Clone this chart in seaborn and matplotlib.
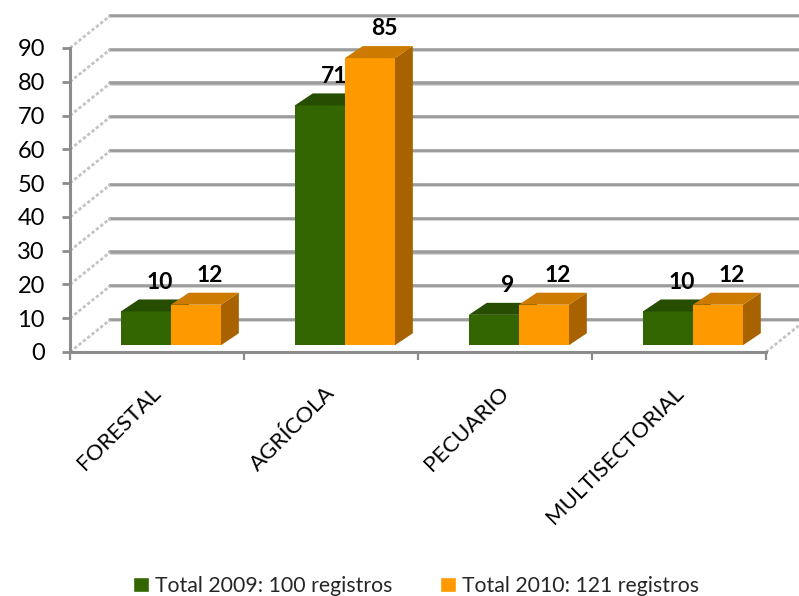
import numpy as np
import pandas as pd
import matplotlib
matplotlib.use("Agg")
import matplotlib.pyplot as plt
from matplotlib.patches import Polygon
from matplotlib.transforms import ScaledTranslation
import seaborn as sns

# Data
categorias = ["FORESTAL", "AGRÍCOLA", "PECUARIO", "MULTISECTORIAL"]
total_2009 = [10, 71, 9, 10]
total_2010 = [12, 85, 12, 12]
series = ["Total 2009: 100 registros", "Total 2010: 121 registros"]
y_ticks = list(range(0, 100, 10))

# Face colours for the pseudo-3D columns
frente = {series[0]: "#336600", series[1]: "#FF9900"}
techo = {series[0]: "#264D00", series[1]: "#CC7A00"}
lateral = {series[0]: "#1E3D00", series[1]: "#A86200"}

df = pd.DataFrame({
    "categoria": categorias * 2,
    "serie": [series[0]] * len(categorias) + [series[1]] * len(categorias),
    "valor": total_2009 + total_2010,
})

sns.set_theme(style="white")
plt.rcParams["font.family"] = ["Lato", "DejaVu Sans"]

W, H = 799, 596
fig = plt.figure(figsize=(W / 100, H / 100), dpi=100)
ax = fig.add_axes([70 / W, (H - 352) / H, (W - 70) / W, 352 / H])

sns.barplot(data=df, x="categoria", y="valor", hue="serie", palette=frente,
            width=0.575, saturation=1, ax=ax, legend=True)

XMAX, YMAX = 3.69, 104.2
ax.set_xlim(-0.5, XMAX)
ax.set_ylim(0, YMAX)

# perspective offsets (data units)
WX, WY = 0.23, 9.5      # depth of walls / floor
BX, BY = 0.103, 3.55    # depth of each column
BASE = 2.0              # columns stand a little behind the front edge
SHIFT = 0.08

grid_col = "#9c9c9c"
# back wall grid lines
for v in y_ticks:
    ax.plot([-0.5 + WX, XMAX + 1], [v + WY, v + WY], color=grid_col, lw=2.6,
            solid_capstyle="round", zorder=0.5)
    ax.plot([-0.5 + WX, XMAX + 1], [v + WY - 0.35, v + WY - 0.35], color="#d6d6d6",
            lw=0.7, zorder=0.6)
    # side wall lines
    ax.plot([-0.5, -0.5 + WX], [v, v + WY], color="#c4c4c4", lw=2.0,
            ls=(0, (1.2, 0.8)), zorder=0.5)
# right floor edge
ax.plot([3.5, 3.5 + WX], [0, WY], color="#c4c4c4", lw=2.0, ls=(0, (1.2, 0.8)),
        zorder=0.5, clip_on=False)

# turn flat bars into columns
for serie, cont in zip(series, ax.containers):
    z = 2 if serie == series[0] else 3
    for bar in cont:
        h = bar.get_height()
        bar.set_x(bar.get_x() + SHIFT)
        bar.set_y(BASE)
        bar.set_zorder(z)
        bar.set_edgecolor("none")
        x0 = bar.get_x()
        x1 = x0 + bar.get_width()
        y1 = BASE + h
        ax.add_patch(Polygon([(x0, y1), (x0 + BX, y1 + BY), (x1 + BX, y1 + BY), (x1, y1)],
                             closed=True, facecolor=techo[serie], edgecolor="none", zorder=z))
        ax.add_patch(Polygon([(x1, BASE), (x1, y1), (x1 + BX, y1 + BY), (x1 + BX, BASE + BY)],
                             closed=True, facecolor=lateral[serie], edgecolor="none", zorder=z - 0.1))
        ax.text((x0 + x1) / 2 + BX / 2 + 0.03, y1 + BY + 2.0, f"{h:.0f}",
                ha="center", va="bottom", fontsize=16.5, fontweight="bold",
                color="black", zorder=5)

# axes styling
axis_col = "#8c8c8c"
for s in ["top", "right"]:
    ax.spines[s].set_visible(False)
ax.spines["left"].set_bounds(0, 90)
ax.spines["bottom"].set_bounds(-0.5, 3.5)
for s in ["left", "bottom"]:
    ax.spines[s].set_color(axis_col)
    ax.spines[s].set_linewidth(2.2)

ax.set_yticks(y_ticks)
ax.tick_params(axis="y", direction="out", length=6, width=2, color=axis_col,
               pad=12, labelsize=17, labelcolor="black", left=True)
ax.set_xticks(range(len(categorias)))
ax.set_xticklabels(categorias, rotation=45, ha="right", va="top",
                   rotation_mode="anchor", fontsize=16, color="black")
ax.set_xticks(np.arange(-0.5, len(categorias), 1), minor=True)
ax.tick_params(axis="x", which="major", length=0, pad=0)
ax.tick_params(axis="x", which="minor", direction="out", length=6, width=1.6,
               color=axis_col, bottom=True)
off = ScaledTranslation(-6 / 100, -31 / 100, fig.dpi_scale_trans)
for lab in ax.get_xticklabels():
    lab.set_transform(lab.get_transform() + off)
ax.set_xlabel("")
ax.set_ylabel("")

sns.move_legend(ax, "center", bbox_to_anchor=(416 / W, 10 / H),
                bbox_transform=fig.transFigure, ncol=2, frameon=False, title=None,
                fontsize=15.3, handlelength=0.75, handleheight=0.65,
                handletextpad=0.3, columnspacing=2.2)

fig.savefig("out.png", dpi=100)
